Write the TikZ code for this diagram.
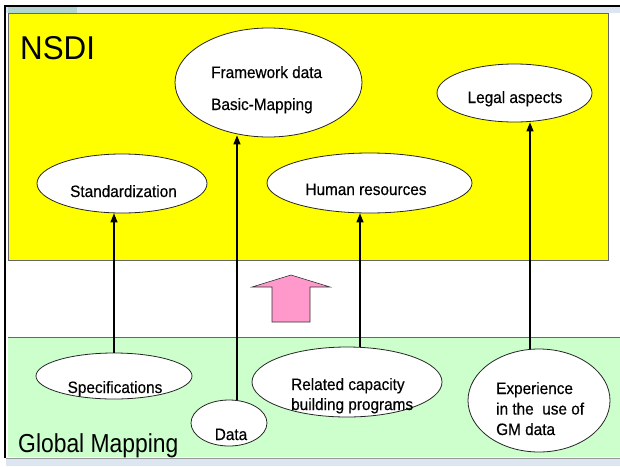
\documentclass[tikz,border=0pt]{standalone}
\usepackage{fontspec}
\setmainfont{Liberation Sans}
\newfontfamily\narrowfont{Liberation Sans}[FakeStretch=0.93,FakeBold=0.4]
\newfontfamily\titlenarrow{Liberation Sans}[FakeStretch=0.88]
\newfontfamily\nsdifont{Liberation Sans}[FakeStretch=0.95]
\usetikzlibrary{shapes.geometric,arrows.meta}
\definecolor{nsdiyellow}{HTML}{FFFF00}
\definecolor{gmgreen}{HTML}{CCFFCC}
\definecolor{stripblue}{HTML}{DCE6F0}
\definecolor{stripteal}{HTML}{B4D4CF}
\definecolor{arrowpink}{HTML}{FF99CC}
\tikzset{
  ell/.style={ellipse, draw=black!85, line width=0.8pt, fill=white, inner sep=0pt},
  lbl/.style={font=\narrowfont\fontsize{16.5}{19}\selectfont, inner sep=0pt},
  conn/.style={line width=1.4pt, -{Triangle[length=9pt,width=7pt]}},
}
\begin{document}
\begin{tikzpicture}[x=1pt,y=-1pt]
\useasboundingbox (0,0) rectangle (620,466);
% frame and strips
\fill[stripblue] (6,7) rectangle (620,13);
\fill[stripteal] (8,7) rectangle (77,13);
\fill[stripblue] (6,459) rectangle (620,466);
\draw[line width=2pt] (5,458) -- (5,6) -- (620,6);
% regions
\filldraw[fill=nsdiyellow, draw=black!60, line width=0.6pt] (8,13) rectangle (608,260);
\fill[gmgreen] (8,337) rectangle (620,457);
\draw[black!60, line width=0.6pt] (8,337) -- (620,337);
\draw[black!40, line width=0.6pt] (6,458) -- (620,458);
% region titles
\node[anchor=base west, inner sep=0pt, font=\nsdifont\fontsize{33}{38}\selectfont] (nsdi) at (20,59) {NSDI};
\node[anchor=base west, inner sep=0pt, font=\titlenarrow\fontsize{26}{30}\selectfont] (gm) at (18,452) {Global Mapping};
% pink arrow
\filldraw[fill=arrowpink, draw=black!80, line width=0.6pt]
  (291,275) -- (330,287) -- (310,287) -- (310,322) -- (272,322) -- (272,287) -- (252,287) -- cycle;
% ellipses
\node[ell, minimum width=187pt, minimum height=109pt] (fw) at (268.5,82.5) {};
\node[ell, minimum width=155pt, minimum height=58pt] (legal) at (514.5,93) {};
\node[ell, minimum width=170pt, minimum height=59pt] (std) at (122,183.5) {};
\node[ell, minimum width=205pt, minimum height=60pt] (hr) at (369.5,183) {};
\node[ell, minimum width=156pt, minimum height=46pt] (spec) at (114,376) {};
\node[ell, minimum width=76pt, minimum height=46pt] (data) at (229,423) {};
\node[ell, minimum width=190pt, minimum height=70pt] (rel) at (347,382) {};
\node[ell, minimum width=142pt, minimum height=103pt] (exp) at (539,400.5) {};
% texts
\node[lbl, anchor=base west] (fwa) at (211,78) {Framework data};
\node[lbl, anchor=base west] (fwb) at (211,110) {Basic-Mapping};
\node[lbl, anchor=base] (legalt) at (515,103) {Legal aspects};
\node[lbl, anchor=base] (stdt) at (123.5,197) {Standardization};
\node[lbl, anchor=base] (hrt) at (366,195) {Human resources};
\node[lbl, anchor=base] (spect) at (115,393) {Specifications};
\node[lbl, anchor=base] (datat) at (231,440) {Data};
\node[lbl, anchor=base west] (rela) at (291,390) {Related capacity};
\node[lbl, anchor=base west] (relb) at (291,410) {building programs};
\node[lbl, anchor=base west] (expa) at (496,394) {Experience};
\node[lbl, anchor=base west] (expb) at (496,414.5) {in the\ \ use of};
\node[lbl, anchor=base west] (expc) at (496,435) {GM data};
% connectors
\coordinate (s1) at (spec.north);
\coordinate (s2) at ([xshift=8pt]data.north);
\coordinate (s3) at ([xshift=13pt]rel.north);
\coordinate (s4) at ([xshift=-9pt]exp.north);
\draw[conn] (s1) -- (s1 |- std.south);
\draw[conn, shorten >=-2pt] (s2) -- (s2 |- fw.south);
\draw[conn] (s3) -- (s3 |- hr.south);
\draw[conn] (s4) -- (s4 |- legal.south);
\end{tikzpicture}
\end{document}
